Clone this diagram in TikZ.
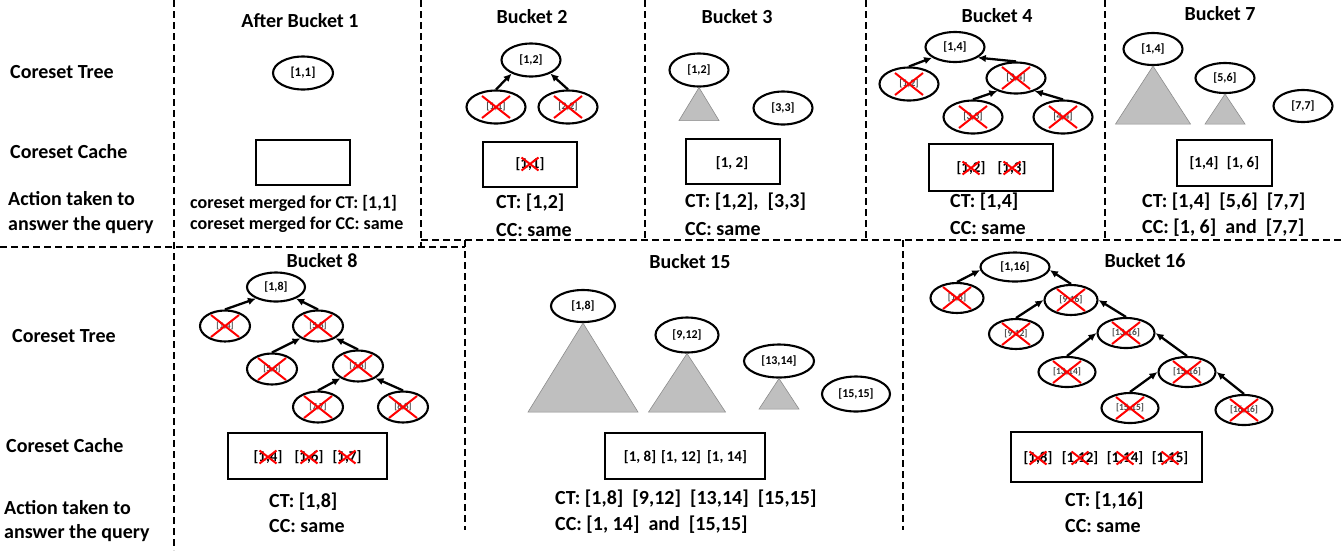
\documentclass[tikz,border=0pt]{standalone}
\usepackage{fontspec}
\setmainfont{Carlito}
\usetikzlibrary{shapes.geometric,arrows.meta,positioning}

\tikzset{
  txt/.style={inner sep=0pt, font=\bfseries\fontsize{20}{24}\selectfont},
  act/.style={txt, anchor=west},
  small/.style={inner sep=0pt, anchor=west, font=\bfseries\fontsize{18}{22}\selectfont},
  seg/.style={ellipse, draw, line width=2.1pt, inner sep=0pt,
    minimum width=59, minimum height=33, font=\bfseries\fontsize{12}{14}\selectfont},
  oldseg/.style={seg, text=black!70, font=\bfseries\fontsize{10}{12}\selectfont},
  tiny/.style={minimum width=50, minimum height=31, font=\bfseries\fontsize{9}{11}\selectfont},
  mid/.style={minimum width=55, minimum height=30, font=\bfseries\fontsize{9.5}{11}\selectfont},
  cache/.style={draw, line width=2pt, inner sep=0pt},
  entry/.style={inner sep=0pt, font=\bfseries\fontsize{15}{18}\selectfont},
  merge/.style={-{Latex[length=8pt,width=7.5pt]}, line width=2.3pt},
  pile/.style={fill=black!25, draw=black!45, line width=0.6pt},
  sep/.style={dash pattern=on 7pt off 4pt, line width=1.1pt},
  xline/.style={red, line width=2pt},
}

% red cross over a node: name, half width, half height
\newcommand{\redx}[3]{%
  \draw[xline] ([shift={(-#2,-#3)}]#1.center) -- ([shift={(#2,#3)}]#1.center)
    ([shift={(-#2,#3)}]#1.center) -- ([shift={(#2,-#3)}]#1.center);}

\begin{document}
\begin{tikzpicture}[x=1pt,y=-1pt]
\useasboundingbox (0,0) rectangle (1343,550);

% frames
\draw[sep] (0,247) -- (465,247);
\draw[sep] (421,240) -- (1343,240);
\draw[sep] (174,0) -- (174,550);
\draw[sep] (421,0) -- (421,247);
\foreach \x in {645,866,1105} \draw[sep] (\x,0) -- (\x,240);
\foreach \x in {465,903} \draw[sep] (\x,240) -- (\x,530);

% row labels
\node[act] (tree1) at (10,72) {Coreset Tree};
\node[act] (cache1) at (10,152) {Coreset Cache};
\node[act] (act1) at (8,199) {Action taken to};
\node[act] (act1b) at (8,225) {answer the query};
\node[act] (tree2) at (12,336) {Coreset Tree};
\node[act] (cache2) at (6,446) {Coreset Cache};
\node[act] (act2) at (4,508) {Action taken to};
\node[act] (act2b) at (4,533) {answer the query};

% after bucket 1
\node[txt] (h1) at (300,21) {After Bucket 1};
\node[seg, minimum width=60, font=\bfseries\fontsize{13}{15}\selectfont] (b1n11) at (303,73) {[1,1]};
\node[cache, minimum width=94, minimum height=45] (b1c) at (303,162.5) {};
\node[small] (b1ct) at (190,203) {coreset merged for CT: [1,1]};
\node[small] (b1cc) at (190,225) {coreset merged for CC: same};

% bucket 2
\node[txt] (h2) at (532,17) {Bucket 2};
\node[seg] (b2n12) at (531,60) {[1,2]};
\node[oldseg] (b2n11) at (496,107) {[1,1]};
\node[oldseg] (b2n22) at (568,107) {[2,2]};
\node[cache, minimum width=94, minimum height=45] (b2c) at (530,164.5) {};
\node[entry] (b2c11) at (530,164) {[1,1]};
\node[act] (b2ct) at (496,203) {CT: [1,2]};
\node[act] (b2cc) at (496,230) {CC: same};

% bucket 3
\node[txt] (h3) at (737,17) {Bucket 3};
\node[seg] (b3n12) at (699,70) {[1,2]};
\node[seg] (b3n33) at (783,108) {[3,3]};
\draw[pile] (b3n12.south) -- ++(-20,33) -- ++(40,0) -- cycle;
\node[cache, minimum width=94, minimum height=45] (b3c) at (733,161.5) {};
\node[entry] (b3c12) at (732,163) {[1, 2]};
\node[act] (b3ct) at (685,202) {CT: [1,2],~~[3,3]};
\node[act] (b3cc) at (685,229) {CC: same};

% bucket 4
\node[txt] (h4) at (997,16) {Bucket 4};
\node[seg, minimum height=30] (b4n14) at (955,47) {[1,4]};
\node[oldseg] (b4n12) at (909,84) {[1,2]};
\node[oldseg, minimum height=31] (b4n34) at (1016,78) {[3,4]};
\node[oldseg] (b4n33) at (973,117) {[3,3]};
\node[oldseg] (b4n44) at (1063,117) {[4,4]};
\node[cache, minimum width=124, minimum height=47] (b4c) at (991,167.5) {};
\node[entry] (b4c12) at (971,168) {[1,2]};
\node[entry] (b4c13) at (1012,168) {[1,3]};
\node[act] (b4ct) at (950,202) {CT: [1,4]};
\node[act] (b4cc) at (950,228) {CC: same};

% bucket 7
\node[txt] (h7) at (1220,14) {Bucket 7};
\node[seg, minimum height=32] (b7n14) at (1153,49) {[1,4]};
\node[seg, minimum height=30] (b7n56) at (1225,78) {[5,6]};
\node[seg, minimum height=32] (b7n77) at (1303,106) {[7,7]};
\draw[pile] (b7n14.south) -- ++(-37.5,58) -- ++(75,0) -- cycle;
\draw[pile] (b7n56.south) -- ++(-20,30) -- ++(40,0) -- cycle;
\node[cache, minimum width=95, minimum height=46] (b7c) at (1224.5,163) {};
\node[entry] (b7c14) at (1204,163) {[1,4]};
\node[entry] (b7c16) at (1243,163) {[1, 6]};
\node[act] (b7ct) at (1142,202) {CT: [1,4]~~[5,6]~~[7,7]};
\node[act] (b7cc) at (1142,228) {CC: [1, 6]~~and~~[7,7]};

% bucket 8
\node[txt] (h8) at (322,261) {Bucket 8};
\node[seg, minimum width=58, minimum height=29] (b8n18) at (276,287) {[1,8]};
\node[oldseg, tiny] (b8n14) at (225,326) {[1,4]};
\node[oldseg, tiny] (b8n58) at (318,326) {[5,8]};
\node[oldseg, tiny] (b8n56) at (272,369) {[5,6]};
\node[oldseg, tiny] (b8n78) at (358,366) {[7,8]};
\node[oldseg, tiny] (b8n77) at (318,407) {[7,7]};
\node[oldseg, tiny] (b8n88) at (403,407) {[8,8]};
\node[cache, minimum width=159, minimum height=46] (b8c) at (307.5,456) {};
\node[entry] (b8c14) at (268,457) {[1,4]};
\node[entry] (b8c16) at (309,457) {[1,6]};
\node[entry] (b8c17) at (347,457) {[1,7]};
\node[act] (b8ct) at (269,502) {CT: [1,8]};
\node[act] (b8cc) at (269,526) {CC: same};

% bucket 15
\node[txt] (h15) at (690,262) {Bucket 15};
\node[seg, minimum width=64, minimum height=32] (b15n18) at (583,306) {[1,8]};
\node[seg, minimum width=63, minimum height=35] (b15n912) at (687,335) {[9,12]};
\node[seg, minimum width=70, minimum height=33] (b15n1314) at (779,361) {[13,14]};
\node[seg, minimum width=68, minimum height=35] (b15n1515) at (856,394) {[15,15]};
\draw[pile] (b15n18.south) -- ++(-55,89) -- ++(110,0) -- cycle;
\draw[pile] (b15n912.south) -- ++(-38.5,58.5) -- ++(77,0) -- cycle;
\draw[pile] (b15n1314.south) -- ++(-20,30.5) -- ++(40,0) -- cycle;
\node[cache, minimum width=160, minimum height=46] (b15c) at (685,456) {};
\node[entry] (b15c18) at (640,457) {[1, 8]};
\node[entry] (b15c112) at (681,457) {[1, 12]};
\node[entry] (b15c114) at (727,457) {[1, 14]};
\node[act] (b15ct) at (555,499) {CT: [1,8]~~[9,12]~~[13,14]~~[15,15]};
\node[act] (b15cc) at (555,525) {CC: [1, 14]~~and~~[15,15]};

% bucket 16
\node[txt] (h16) at (1145,261) {Bucket 16};
\node[seg, minimum width=69, minimum height=29] (b16n116) at (1015,267) {[1,16]};
\node[oldseg, mid, minimum width=53] (b16n18) at (957,298) {[1,8]};
\node[oldseg, mid, minimum width=53] (b16n916) at (1071,300) {[9,16]};
\node[oldseg, mid, minimum width=54] (b16n912) at (1016,334) {[9,12]};
\node[oldseg, mid, minimum width=57] (b16n1316) at (1126,333) {[13,16]};
\node[oldseg, mid, minimum width=57] (b16n1314) at (1067,372) {[13,14]};
\node[oldseg, mid, minimum width=57] (b16n1516) at (1187,372) {[15,16]};
\node[oldseg, mid, minimum width=57] (b16n1515) at (1130,408) {[15,15]};
\node[oldseg, mid, minimum width=57] (b16n1616) at (1244,410) {[16,16]};
\node[cache, minimum width=191, minimum height=50] (b16c) at (1106.5,457) {};
\node[entry] (b16c18) at (1038,458) {[1,8]};
\node[entry] (b16c112) at (1080,458) {[1,12]};
\node[entry] (b16c114) at (1125,458) {[1,14]};
\node[entry] (b16c115) at (1170,458) {[1,15]};
\node[act] (b16ct) at (1065,501) {CT: [1,16]};
\node[act] (b16cc) at (1065,526) {CC: same};

% merges
\foreach \ch/\pa/\ang in {b2n11/b2n12/215, b2n22/b2n12/325,
    b4n12/b4n14/205, b4n34/b4n14/335, b4n33/b4n34/215, b4n44/b4n34/325,
    b8n14/b8n18/210, b8n58/b8n18/330, b8n56/b8n58/215, b8n78/b8n58/325,
    b8n77/b8n78/215, b8n88/b8n78/325,
    b16n18/b16n116/185, b16n916/b16n116/355, b16n912/b16n916/180,
    b16n1316/b16n916/0, b16n1314/b16n1316/180, b16n1516/b16n1316/0,
    b16n1515/b16n1516/180, b16n1616/b16n1516/0}
  \draw[merge] (\ch.north) -- (\pa.\ang);

% crossed out
\foreach \n in {b2n11,b2n22,b4n12,b4n34,b4n33,b4n44,
    b8n14,b8n58,b8n56,b8n78,b8n77,b8n88,
    b16n18,b16n916,b16n912,b16n1316,b16n1314,b16n1516,b16n1515,b16n1616}
  {\redx{\n}{14}{11}}
\foreach \n in {b2c11,b4c12,b4c13,b8c14,b8c16,b8c17,b16c18,b16c112,b16c114,b16c115}
  {\redx{\n}{8.5}{6.5}}
\end{tikzpicture}
\end{document}
